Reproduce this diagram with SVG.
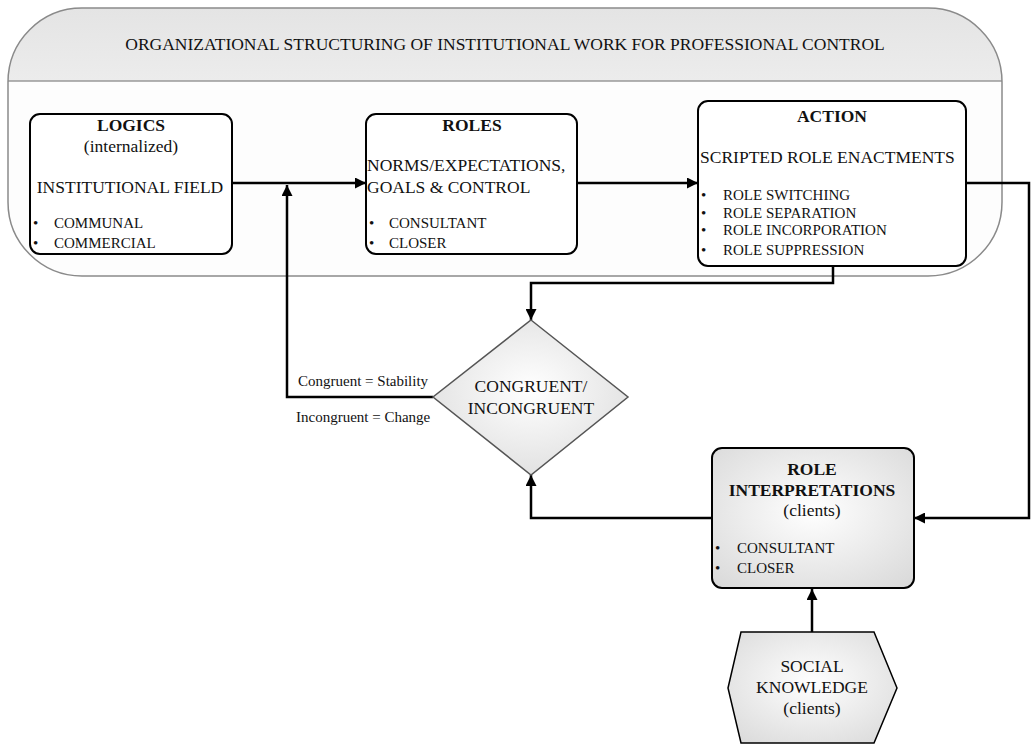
<svg xmlns="http://www.w3.org/2000/svg" width="1032" height="746" viewBox="0 0 1032 746">
<defs>
<linearGradient id="hdr" x1="0" y1="0" x2="0" y2="1">
<stop offset="0" stop-color="#e4e4e4"/><stop offset="1" stop-color="#ececec"/>
</linearGradient>
<radialGradient id="gr" cx="0.5" cy="0.45" r="0.7">
<stop offset="0" stop-color="#ffffff"/><stop offset="1" stop-color="#dadada"/>
</radialGradient>
<marker id="ah" viewBox="0 0 10 10" refX="10" refY="5" markerWidth="13" markerHeight="11" markerUnits="userSpaceOnUse" orient="auto">
<path d="M0,0 L10,5 L0,10 Z" fill="#000"/>
</marker>
<clipPath id="outerClip"><rect x="8" y="8" width="994" height="268" rx="74" ry="74"/></clipPath>
</defs>
<style>
text{font-family:"Liberation Serif","Times New Roman",serif;fill:#111}
.t16{font-size:17.5px}
.t13{font-size:15px}
.b{font-weight:bold}
.c{text-anchor:middle}
.box{fill:#fff;stroke:#000;stroke-width:2}
.conn{fill:none;stroke:#000;stroke-width:2.5}
</style>
<rect width="1032" height="746" fill="#fff"/>
<g id="container">
<rect x="8" y="8" width="994" height="268" rx="74" ry="74" fill="#fdfdfd"/>
<rect x="8" y="8" width="994" height="73" fill="url(#hdr)" clip-path="url(#outerClip)"/>
<line x1="8" y1="81" x2="1002" y2="81" stroke="#999" stroke-width="1.5"/>
<rect x="8" y="8" width="994" height="268" rx="74" ry="74" fill="none" stroke="#8a8a8a" stroke-width="1.5"/>
<text class="t16 c" x="505" y="50">ORGANIZATIONAL STRUCTURING OF INSTITUTIONAL WORK FOR PROFESSIONAL CONTROL</text>
</g>
<g id="connectors">
<polyline class="conn" points="232,183 366,183" marker-end="url(#ah)"/>
<polyline class="conn" points="433,397 287,397 287,185" marker-end="url(#ah)"/>
<polyline class="conn" points="577,183 698,183" marker-end="url(#ah)"/>
<polyline class="conn" points="966,183 1029,183 1029,518 914,518" marker-end="url(#ah)"/>
<polyline class="conn" points="833,266 833,283 531,283 531,320" marker-end="url(#ah)"/>
<polyline class="conn" points="712,518 531,518 531,475" marker-end="url(#ah)"/>
<polyline class="conn" points="812,632 812,589" marker-end="url(#ah)"/>
<text class="t13" x="298" y="386">Congruent = Stability</text>
<text class="t13" x="296" y="422">Incongruent = Change</text>
</g>
<g id="logics">
<rect class="box" x="30" y="114" width="202" height="140" rx="10"/>
<text class="t16 b c" x="131" y="131">LOGICS</text>
<text class="t16 c" x="131" y="152">(internalized)</text>
<text class="t16 c" x="130" y="193">INSTITUTIONAL FIELD</text>
<text class="t13" x="33" y="228">•</text>
<text class="t13" x="54" y="228">COMMUNAL</text>
<text class="t13" x="33" y="248">•</text>
<text class="t13" x="54" y="248">COMMERCIAL</text>
</g>
<g id="roles">
<rect class="box" x="366" y="114" width="211" height="140" rx="10"/>
<text class="t16 b c" x="472" y="131">ROLES</text>
<text class="t16" x="367" y="171">NORMS/EXPECTATIONS,</text>
<text class="t16" x="367" y="193">GOALS &amp; CONTROL</text>
<text class="t13" x="369" y="228">•</text>
<text class="t13" x="389" y="228">CONSULTANT</text>
<text class="t13" x="369" y="248">•</text>
<text class="t13" x="389" y="248">CLOSER</text>
</g>
<g id="action">
<rect class="box" x="698" y="101" width="268" height="165" rx="10"/>
<text class="t16 b c" x="832" y="122">ACTION</text>
<text class="t16" x="700" y="163">SCRIPTED ROLE ENACTMENTS</text>
<text class="t13" x="701" y="200">•</text>
<text class="t13" x="723" y="200">ROLE SWITCHING</text>
<text class="t13" x="701" y="218">•</text>
<text class="t13" x="723" y="218">ROLE SEPARATION</text>
<text class="t13" x="701" y="235">•</text>
<text class="t13" x="723" y="235">ROLE INCORPORATION</text>
<text class="t13" x="701" y="255">•</text>
<text class="t13" x="723" y="255">ROLE SUPPRESSION</text>
</g>
<g id="decision">
<polygon points="531,320 628,397 531,475 433,397" fill="url(#gr)" stroke="#555" stroke-width="1.5"/>
<text class="t16 c" x="531" y="392">CONGRUENT/</text>
<text class="t16 c" x="531" y="414">INCONGRUENT</text>
</g>
<g id="role-interpretations">
<rect x="712" y="448" width="202" height="140" rx="10" fill="url(#gr)" stroke="#000" stroke-width="2"/>
<text class="t16 b c" x="812" y="475">ROLE</text>
<text class="t16 b c" x="812" y="496">INTERPRETATIONS</text>
<text class="t16 c" x="812" y="516">(clients)</text>
<text class="t13" x="715" y="553">•</text>
<text class="t13" x="737" y="553">CONSULTANT</text>
<text class="t13" x="715" y="573">•</text>
<text class="t13" x="737" y="573">CLOSER</text>
</g>
<g id="social-knowledge">
<polygon points="741,632 874,632 897,688 874,743 741,743 728,688" fill="url(#gr)" stroke="#000" stroke-width="1.5"/>
<text class="t16 c" x="812" y="672">SOCIAL</text>
<text class="t16 c" x="812" y="693">KNOWLEDGE</text>
<text class="t16 c" x="812" y="714">(clients)</text>
</g>
</svg>
